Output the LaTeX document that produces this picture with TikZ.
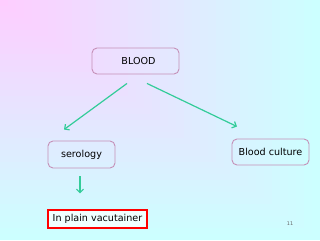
\documentclass[tikz,border=0pt]{standalone}
\usepackage{fontspec}
\setmainfont{DejaVu Sans}
\usetikzlibrary{arrows.meta,calc}
\definecolor{bgpink}{HTML}{FFCCFF}
\definecolor{bgcyan}{HTML}{CCFFFF}
\definecolor{boxline}{HTML}{C590B8}
\definecolor{arrowgreen}{HTML}{33CC99}

\begin{document}
\begin{tikzpicture}[x=1pt,y=-1pt,font=\fontsize{9.6}{11}\selectfont]
  \tikzstyle{topic}=[draw=boxline,line width=0.9pt,rounded corners=5pt,minimum height=26pt,inner sep=2pt]
  \tikzstyle{note}=[draw=red,fill=white!70!bgcyan,line width=1.6pt,minimum height=18pt,inner sep=2pt]
  \tikzstyle{link}=[draw=arrowgreen,line width=1.2pt,-{Straight Barb[length=3.5pt,width=7pt]}]

  % background, corner gradient
  \useasboundingbox (0,0) rectangle (320,240);
  \foreach \i in {40,39,...,1} {
    \pgfmathsetmacro\t{100*\i/40}
    \fill[bgcyan!\t!bgpink] (0,0) rectangle (8*\i,6*\i);
  }

  \node[topic,minimum width=87pt] (blood) at (135.5,61) {\hspace{6pt}BLOOD};
  \node[topic,minimum width=67pt,minimum height=27pt] (sero) at (81.5,154.5) {serology};
  \node[topic,minimum width=77pt] (cult) at (270.5,152) {Blood culture};
  \node[note,minimum width=99pt] (vacu) at (97.5,219) {In plain vacutainer};
  \node[font=\fontsize{5}{6}\selectfont,text=black!60] (page) at (290,224) {11};

  \draw[link] ($(blood.south)+(-8.5,9)$) -- ($(sero.north)+(-17.5,-11)$);
  \draw[link] ($(blood.south)+(11.5,9)$) -- ($(cult.north)+(-33.5,-12)$);
  \draw[link] ($(sero.south)+(-1.5,8)$) -- ($(sero.south)+(-1.5,25)$);
\end{tikzpicture}
\end{document}
